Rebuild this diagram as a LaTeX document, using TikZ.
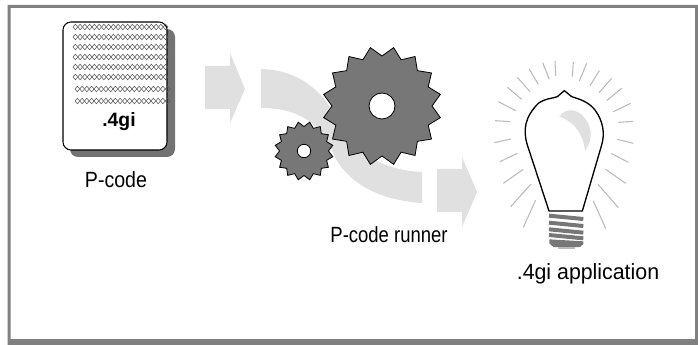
\documentclass[tikz,border=0pt]{standalone}
\usepackage{fontspec}
\setmainfont{Liberation Sans}
\definecolor{bandgray}{HTML}{E0E0E0}
\definecolor{geargray}{HTML}{777777}
\definecolor{raygray}{HTML}{BBBBBB}
\definecolor{framegray}{HTML}{808080}
\newcommand{\gearpath}[4]{% centre x, centre y, outer, root
  \fill[geargray, draw=black, line width=0.6pt]
    plot[samples at={0,...,31}, variable=\k]
      ({#1+(mod(\k,2)==0 ? #3 : #4)*cos(11.25+\k*11.25)},
       {#2+(mod(\k,2)==0 ? #3 : #4)*sin(11.25+\k*11.25)}) -- cycle;
}
\begin{document}
\begin{tikzpicture}[
    x=0.75pt, y=-0.75pt,
    band/.style={fill=bandgray, draw=none},
    lbl/.style={font=\fontsize{16.5pt}{18pt}\selectfont, inner sep=0pt},
    ray/.style={draw=raygray, line width=0.8pt},
    stripe/.style={draw=geargray, line width=3pt}
  ]
    \useasboundingbox (0,0) rectangle (698,345);
    \fill[framegray, even odd rule] (7.5,5) rectangle (698,345) (10.7,8) rectangle (695,339);

    % p-code card
    \fill[black!55, rounded corners=6pt] (70,29) rectangle (175,157);
    \draw[fill=white, line width=0.8pt, rounded corners=6pt] (63,22) rectangle (167,150);
    \foreach \rowy/\rowx in {27/73,37/73,47/73,57/73,67/73,77/73,89/75,101/75}
      \foreach \i in {0,...,19}
        \draw[black!65, line width=0.4pt]
          ({\rowx+\i*4.75},\rowy) -- ({\rowx+\i*4.75+2.37},\rowy-2.8)
          -- ({\rowx+\i*4.75+4.75},\rowy) -- ({\rowx+\i*4.75+2.37},\rowy+2.8) -- cycle;
    \node[font=\bfseries\fontsize{14.5pt}{16pt}\selectfont, inner sep=0pt] (ext) at (119,122) {.4gi};
    \node[lbl] (pcode) at (116,180) {\scalebox{.89}[1]{P-code}};

    % arrows and band
    \fill[band] (205,66) -- (230,66) -- (230,53) -- (245,89) -- (230,123) -- (230,109) -- (205,109) -- cycle;
    \fill[band] (437,169) -- (462,169) -- (462,157) -- (477,192) -- (462,227) -- (462,212) -- (437,212) -- cycle;
    \fill[band] (261,69) .. controls (300,70) and (322,92) .. (335,115)
      .. controls (348,145) and (375,170) .. (422,172)
      -- (422,203) .. controls (375,200) and (345,180) .. (333,153)
      .. controls (322,125) and (300,108) .. (261,108) -- cycle;

    % gears
    \gearpath{382}{106}{59.5}{50}
    \draw[fill=white, line width=0.6pt] (382,106) circle[radius=13];
    \gearpath{304}{151}{29.3}{24.5}
    \draw[fill=white, line width=0.6pt] (304,151) circle[radius=6.7];
    \node[lbl] (runner) at (389,235) {\scalebox{.84}[1]{P-code runner}};

    % bulb
    \begin{scope}[shift={(470,50)}, x=0.25pt, y=-0.25pt]
      \foreach \xa/\ya/\xb/\yb in {255/33/257/78, 218/38/238/88, 178/58/205/103,
          142/82/180/125, 112/112/155/148, 85/155/137/182, 75/212/120/215,
          73/278/123/267, 90/335/142/310, 100/400/160/358, 122/470/183/402,
          160/532/197/450, 310/35/307/80, 350/40/328/93, 388/62/360/107,
          425/85/387/128, 455/115/410/152, 482/160/430/185, 490/214/445/217,
          490/280/441/268, 475/337/423/310, 467/400/407/358, 445/473/384/403,
          407/535/370/453}
        \draw[ray] (\xa,\ya) -- (\xb,\yb);
      \fill[band] (268,200) .. controls (285,175) and (320,172) .. (345,205)
        .. controls (368,235) and (368,270) .. (345,303)
        .. controls (340,255) and (315,215) .. (268,200) -- cycle;
      \draw[line width=1pt, line join=round] (237,483)
        -- (172,285) .. controls (158,240) and (165,200) .. (205,160)
        .. controls (225,145) and (250,145) .. (262,140) -- (283,122) -- (305,140)
        .. controls (330,148) and (355,155) .. (375,180)
        .. controls (400,215) and (405,250) .. (395,285)
        -- (337,483) -- cycle;
      \draw[stripe] (237,497) -- (340,507);
      \draw[stripe] (237,518) -- (340,528);
      \draw[stripe] (237,538) -- (340,548);
      \draw[stripe] (237,555) -- (340,565);
      \fill[geargray] (238,568) -- (340,574) -- (340,582) -- (330,591) -- (250,591) -- (238,580) -- cycle;
      \fill[raygray] (265,591) rectangle (315,598);
    \end{scope}
    \node[lbl] (app) at (588,274) {\scalebox{.97}[1]{.4gi application}};
\end{tikzpicture}
\end{document}
